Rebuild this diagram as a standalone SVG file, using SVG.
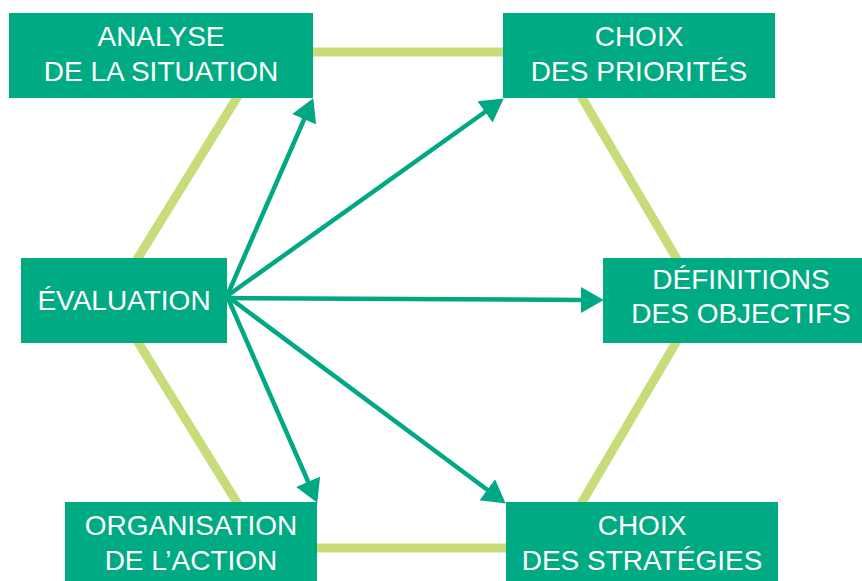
<svg xmlns="http://www.w3.org/2000/svg" width="862" height="581" viewBox="0 0 862 581">
<style>
.box{fill:#00ab84}
.lbl{font-family:"Liberation Sans",Arial,Helvetica,sans-serif;font-size:28px;fill:#ffffff;text-anchor:middle}
.hex{fill:none;stroke:#c9dc7a;stroke-width:9;stroke-linejoin:miter}
.arr{fill:none;stroke:#00a884;stroke-width:4.5;marker-end:url(#ah)}
</style>
<defs>
<marker id="ah" markerUnits="userSpaceOnUse" markerWidth="24" markerHeight="28" viewBox="0 -13 23 26" refX="4" refY="0" orient="auto">
<path d="M0,-12.5 L22,0 L0,12.5 z" fill="#00a884"/>
</marker>
</defs>
<g id="connectors">
<polygon class="hex" points="265,52 555,52 701,300 555,548 265,548 112,300"/>
<line class="arr" x1="227" y1="296" x2="305.8" y2="115.5"/>
<line class="arr" x1="227" y1="296" x2="488.4" y2="109.5"/>
<line class="arr" x1="227" y1="298" x2="585" y2="300"/>
<line class="arr" x1="227" y1="296" x2="490.6" y2="492.3"/>
<line class="arr" x1="227" y1="296" x2="309.8" y2="485.5"/>
</g>
<g id="analyse">
<rect class="box" x="9" y="13" width="304" height="85"/>
<text class="lbl" x="161" y="46">ANALYSE</text>
<text class="lbl" x="161" y="81">DE LA SITUATION</text>
</g>
<g id="priorites">
<rect class="box" x="503" y="13" width="272" height="85"/>
<text class="lbl" x="639" y="46">CHOIX</text>
<text class="lbl" x="639" y="81">DES PRIORITÉS</text>
</g>
<g id="evaluation">
<rect class="box" x="21" y="258" width="206" height="85"/>
<text class="lbl" x="124" y="310">ÉVALUATION</text>
</g>
<g id="objectifs">
<rect class="box" x="603" y="258" width="270" height="85"/>
<text class="lbl" x="741" y="289">DÉFINITIONS</text>
<text class="lbl" x="741" y="323">DES OBJECTIFS</text>
</g>
<g id="organisation">
<rect class="box" x="65" y="502" width="252" height="85"/>
<text class="lbl" x="191" y="535">ORGANISATION</text>
<text class="lbl" x="191" y="570">DE L’ACTION</text>
</g>
<g id="strategies">
<rect class="box" x="506" y="502" width="272" height="85"/>
<text class="lbl" x="642" y="535">CHOIX</text>
<text class="lbl" x="642" y="570">DES STRATÉGIES</text>
</g>
</svg>
